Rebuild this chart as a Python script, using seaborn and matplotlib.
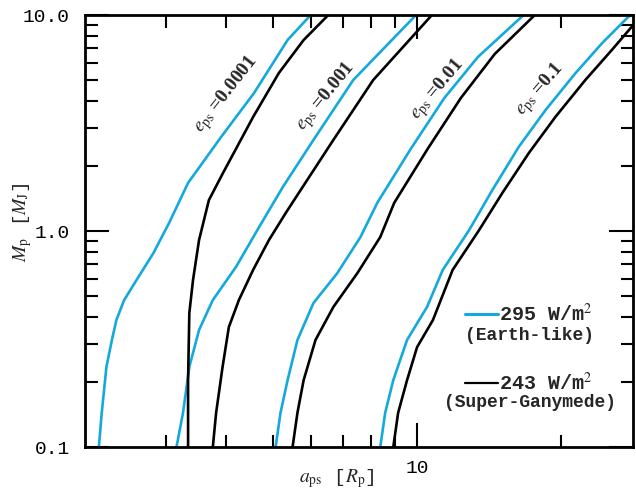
import matplotlib
matplotlib.use("Agg")
import matplotlib.pyplot as plt
from matplotlib.lines import Line2D
from matplotlib.ticker import FixedLocator, FixedFormatter, NullFormatter
import seaborn as sns
import pandas as pd

BLUE = "#14a9dc"

# curves (a_ps in R_p, M_p in M_J)
a_blue_1 = [2.17, 2.20, 2.25, 2.31, 2.36, 2.45, 2.60, 2.82, 3.04, 3.33, 3.90, 4.57, 5.37, 6.00]
m_blue_1 = [0.10, 0.144, 0.235, 0.313, 0.387, 0.479, 0.593, 0.791, 1.09, 1.67, 2.72, 4.35, 7.66, 10.0]
a_black_1 = [3.33, 3.33, 3.35, 3.41, 3.51, 3.68, 3.94, 4.55, 5.15, 5.80, 6.53]
m_black_1 = [0.10, 0.204, 0.417, 0.593, 0.908, 1.39, 1.86, 3.37, 5.39, 7.66, 10.0]

a_blue_2 = [3.15, 3.25, 3.35, 3.51, 3.75, 4.19, 4.68, 5.25, 6.08, 7.36, 9.95]
m_blue_2 = [0.10, 0.144, 0.235, 0.348, 0.479, 0.681, 1.04, 1.60, 2.64, 5.00, 10.0]
a_black_2 = [3.75, 3.81, 3.93, 4.05, 4.25, 4.55, 4.91, 5.32, 5.72, 6.69, 8.10, 10.74]
m_black_2 = [0.10, 0.144, 0.235, 0.359, 0.479, 0.660, 0.908, 1.21, 1.55, 2.64, 5.00, 10.0]

a_blue_3 = [5.07, 5.19, 5.37, 5.63, 6.08, 6.82, 7.62, 8.26, 9.70, 11.40, 13.39, 16.68]
m_blue_3 = [0.10, 0.144, 0.204, 0.313, 0.464, 0.639, 0.938, 1.35, 2.40, 4.13, 6.39, 10.0]
a_black_3 = [5.50, 5.63, 5.80, 6.14, 6.69, 7.51, 8.38, 8.96, 10.52, 12.34, 14.52, 17.60]
m_black_3 = [0.10, 0.144, 0.204, 0.313, 0.445, 0.639, 0.938, 1.35, 2.40, 4.13, 6.60, 10.0]

a_blue_4 = [8.38, 8.58, 8.92, 9.53, 10.49, 11.31, 12.84, 14.36, 16.31, 18.53, 21.38, 24.30, 27.59, 28.10]
m_blue_4 = [0.10, 0.144, 0.204, 0.313, 0.445, 0.660, 1.01, 1.55, 2.46, 3.63, 5.37, 7.40, 9.82, 10.0]
a_black_4 = [8.92, 9.13, 9.53, 10.00, 10.79, 11.86, 13.47, 15.06, 17.11, 19.44, 22.43, 25.48, 28.04, 29.00]
m_black_4 = [0.10, 0.144, 0.204, 0.290, 0.387, 0.660, 1.01, 1.50, 2.30, 3.38, 5.00, 6.89, 8.83, 9.60]

ecc_labels = ["0.0001", "0.001", "0.01", "0.1"]
ecc_text_a = [4.01, 6.47, 11.06, 18.09]
ecc_text_m = [4.26, 4.17, 4.50, 4.50]
ecc_text_rot = [52, 51, 50, 49]

x_major = [10]
x_major_labels = ["10"]
x_minor = [3, 4, 5, 6, 7, 8, 9, 20]
y_major = [0.1, 1.0, 10.0]
y_major_labels = ["0.1", "1.0", "10.0"]
y_minor = [0.2, 0.3, 0.4, 0.5, 0.6, 0.7, 0.8, 0.9, 2, 3, 4, 5, 6, 7, 8, 9]

blue_curves = [(a_blue_1, m_blue_1), (a_blue_2, m_blue_2), (a_blue_3, m_blue_3), (a_blue_4, m_blue_4)]
black_curves = [(a_black_1, m_black_1), (a_black_2, m_black_2), (a_black_3, m_black_3), (a_black_4, m_black_4)]

rows = []
for ecc, (a, m) in zip(ecc_labels, blue_curves):
    for x, y in zip(a, m):
        rows.append({"ecc": ecc, "flux": "295", "a": x, "M": y})
for ecc, (a, m) in zip(ecc_labels, black_curves):
    for x, y in zip(a, m):
        rows.append({"ecc": ecc, "flux": "243", "a": x, "M": y})
df = pd.DataFrame(rows)

sns.set_theme(style="ticks")
plt.rcParams["font.family"] = ["Liberation Mono", "DejaVu Sans Mono"]
plt.rcParams["mathtext.fontset"] = "stix"

fig = plt.figure(figsize=(6.36, 4.94), dpi=100)
ax = fig.add_axes([85 / 636, 47 / 494, 548 / 636, 432 / 494])

sns.lineplot(data=df, x="a", y="M", hue="flux", units="ecc", estimator=None, sort=False,
             palette={"295": BLUE, "243": "black"}, linewidth=1.9, legend=False, ax=ax)

ax.set_xscale("log")
ax.set_yscale("log")
ax.set_xlim(2.03, 28.2)
ax.set_ylim(0.1, 10)

ax.xaxis.set_major_locator(FixedLocator(x_major))
ax.xaxis.set_major_formatter(FixedFormatter(x_major_labels))
ax.xaxis.set_minor_locator(FixedLocator(x_minor))
ax.xaxis.set_minor_formatter(NullFormatter())
ax.yaxis.set_major_locator(FixedLocator(y_major))
ax.yaxis.set_major_formatter(FixedFormatter(y_major_labels))
ax.yaxis.set_minor_locator(FixedLocator(y_minor))
ax.yaxis.set_minor_formatter(NullFormatter())

ax.tick_params(which="both", direction="in", top=True, right=True, width=1.5, colors="black", labelsize=14)
ax.tick_params(which="major", length=17)
ax.tick_params(which="minor", length=9)
ax.tick_params(axis="x", which="major", pad=9)
ax.tick_params(axis="y", which="major", pad=11)
for s in ax.spines.values():
    s.set_linewidth(2)
    s.set_color("black")

ax.set_xlabel(r"$a_{\rm ps}$ [$R_{\rm p}$]", fontsize=14)
ax.set_ylabel(r"$M_{\rm p}$ [$M_{\rm J}$]", fontsize=14)
ax.xaxis.set_label_coords(0.46, -0.046)
ax.yaxis.set_label_coords(-0.093, 0.52)

for lab, xa, ym, rot in zip(ecc_labels, ecc_text_a, ecc_text_m, ecc_text_rot):
    ax.text(xa, ym, r"$e_{\rm ps}$ =" + lab, rotation=rot, rotation_mode="anchor",
            ha="center", va="center", fontsize=14, family="Liberation Serif", fontweight="bold")

handles = [Line2D([], [], color=BLUE, lw=2.2), Line2D([], [], color="black", lw=1.6)]
ax.legend(handles, ["295 W/m$^2$", "243 W/m$^2$"], loc="upper left", bbox_to_anchor=(0.693, 0.333),
          frameon=False, handlelength=1.65, handletextpad=0.05, borderpad=0, borderaxespad=0,
          labelspacing=2.3, prop={"family": "Liberation Mono", "size": 14.5, "weight": "bold"})
ax.text(0.812, 0.259, "(Earth-like)", transform=ax.transAxes, ha="center", va="center",
        fontsize=13, fontweight="bold")
ax.text(0.812, 0.104, "(Super-Ganymede)", transform=ax.transAxes, ha="center", va="center",
        fontsize=13, fontweight="bold")

fig.savefig("out.png", dpi=100)
